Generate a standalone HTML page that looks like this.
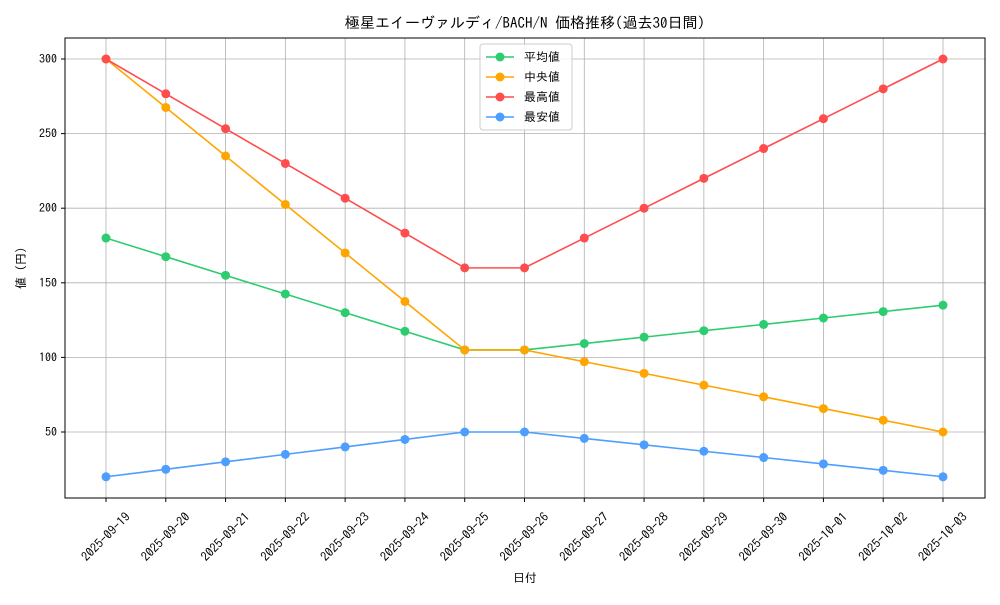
<!DOCTYPE html>
<html><head><meta charset="utf-8"><style>
body{margin:0;background:#fff}
svg{font-family:"IPAGothic","Liberation Sans","Noto Sans CJK JP",sans-serif}
</style></head><body>
<svg id="chart" width="1000" height="600" xmlns="http://www.w3.org/2000/svg">
<rect width="1000" height="600" fill="#fff"/>
<text x="525" y="28" text-anchor="middle" font-size="15">極星エイーヴァルディ/BACH/N 価格推移(過去30日間)</text>
<g id="grid"></g>
<g id="series"></g>
<rect x="65" y="38" width="920" height="460" fill="none" stroke="#000" stroke-width="1"/>
<text x="525" y="582" text-anchor="middle" font-size="12">日付</text>
<text x="25" y="268" text-anchor="middle" font-size="12" transform="rotate(-90 25 268)">値 (円)</text>
<g id="legend"></g>
</svg>
<script>
const categories=["2025-09-19","2025-09-20","2025-09-21","2025-09-22","2025-09-23","2025-09-24","2025-09-25","2025-09-26","2025-09-27","2025-09-28","2025-09-29","2025-09-30","2025-10-01","2025-10-02","2025-10-03"];
const avgValues=[180,167.5,155,142.5,130,117.5,105,105,109.3,113.6,117.9,122.1,126.4,130.7,135];
const medianValues=[300,267.5,235,202.5,170,137.5,105,105,97.1,89.3,81.4,73.6,65.7,57.9,50];
const maxValues=[300,276.7,253.3,230,206.7,183.3,160,160,180,200,220,240,260,280,300];
const minValues=[20,25,30,35,40,45,50,50,45.7,41.4,37.1,32.9,28.6,24.3,20];
const yTicks=[50,100,150,200,250,300];
const seriesNames=["平均値","中央値","最高値","最安値"];
const NS="http://www.w3.org/2000/svg";
function x(i){return 106+i*(943-106)/(categories.length-1);}
function y(v){return 59+(300-v)*(432-59)/250;}
function mk(tag,attrs,parent){const e=document.createElementNS(NS,tag);for(const k in attrs)e.setAttribute(k,attrs[k]);parent.appendChild(e);return e;}
const grid=document.getElementById('grid');
categories.forEach((c,i)=>{
 const l=mk('line',{x1:x(i),x2:x(i),y1:38,y2:498,stroke:'#b0b0b0','stroke-width':0.8},grid);
 
 
 mk('line',{x1:x(i),x2:x(i),y1:498,y2:502,stroke:'#000'},grid);
 const cx=x(i),cy=537;
 const t=mk('text',{x:cx,y:cy+4,'font-size':12.5,'text-anchor':'middle',transform:`rotate(-45 ${cx} ${cy})`},grid);
 t.textContent=c;
 
 
});
yTicks.forEach(v=>{
 const l=mk('line',{x1:65,x2:985,y1:y(v),y2:y(v),stroke:'#b0b0b0','stroke-width':0.8},grid);
 
 
 mk('line',{x1:61,x2:65,y1:y(v),y2:y(v),stroke:'#000'},grid);
 const t=mk('text',{x:57,y:y(v)+4,'font-size':12,'text-anchor':'end'},grid);
 t.textContent=v;
 
 
});
const colors=["#2ecc71","#ffa500","#ff4d4d","#4d9eff"];
const data=[avgValues,medianValues,maxValues,minValues];
const sg=document.getElementById('series');
data.forEach((vals,s)=>{
 const p=mk('polyline',{points:vals.map((v,i)=>x(i)+','+y(v)).join(' '),fill:'none',stroke:colors[s],'stroke-width':1.6},sg);
 
 
 vals.forEach((v,i)=>{
  const c=mk('circle',{cx:x(i),cy:y(v),r:4.5,fill:colors[s]},sg);
  
  
 });
});
const lg=document.getElementById('legend');
mk('rect',{x:480,y:44,width:92,height:86,fill:'#fff','fill-opacity':0.85,stroke:'#ccc',rx:3},lg);
seriesNames.forEach((n,s)=>{
 const yy=57+s*20;
 mk('line',{x1:486,x2:514,y1:yy,y2:yy,stroke:colors[s],'stroke-width':1.6},lg);
 mk('circle',{cx:500,cy:yy,r:4.5,fill:colors[s]},lg);
 const t=mk('text',{x:524,y:yy+4,'font-size':12},lg);
 t.textContent=n;
 
 
});
</script>
</body></html>
